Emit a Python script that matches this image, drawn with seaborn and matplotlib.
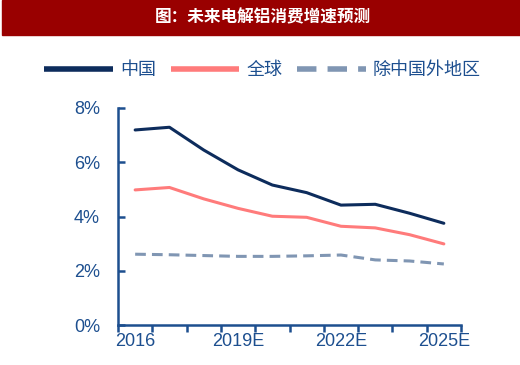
import matplotlib
matplotlib.use("Agg")
import matplotlib.pyplot as plt
import seaborn as sns
import pandas as pd

years = ["2016", "2017", "2018E", "2019E", "2020E", "2021E", "2022E", "2023E", "2024E", "2025E"]
china = [7.19, 7.29, 6.45, 5.72, 5.16, 4.88, 4.42, 4.45, 4.12, 3.75]
world = [4.98, 5.07, 4.65, 4.30, 4.01, 3.97, 3.64, 3.58, 3.33, 2.99]
ex_china = [2.61, 2.59, 2.56, 2.53, 2.53, 2.55, 2.58, 2.40, 2.36, 2.25]
series_names = ["中国", "全球", "除中国外地区"]
tick_labels = ["2016", "2019E", "2022E", "2025E"]
title = "图：未来电解铝消费增速预测"

sns.set_style("white")
plt.rcParams['font.family'] = ['Noto Sans CJK SC', 'DejaVu Sans']

navy = "#0d2c5c"
axis_blue = "#1d4f8f"

df = pd.DataFrame({"year": years, series_names[0]: china,
                   series_names[1]: world, series_names[2]: ex_china})
df["pos"] = range(len(years))

fig = plt.figure(figsize=(5.2, 3.65), dpi=100)
fig.patches.append(plt.Rectangle((0.004, 1 - 35 / 365), 0.996, 35 / 365, transform=fig.transFigure,
                                 color="#990000", zorder=0))
fig.text(0.505, 1 - 17 / 365, title, color="white",
         ha="center", va="center", fontsize=12, fontweight="bold")

ax = fig.add_axes([118 / 520, 40 / 365, 343 / 520, 217 / 365])
sns.lineplot(data=df, x="pos", y=series_names[0], ax=ax, color=navy, lw=2.2, label=series_names[0])
sns.lineplot(data=df, x="pos", y=series_names[1], ax=ax, color="#ff7b7b", lw=2.2, label=series_names[1])
sns.lineplot(data=df, x="pos", y=series_names[2], ax=ax, color="#8096b3", lw=2.2,
             ls=(0, (3.5, 2)), label=series_names[2])

ax.set_xlim(-0.5, len(years) - 0.5)
ax.set_ylim(0, 8)
ax.set_xlabel("")
ax.set_ylabel("")
ax.set_yticks([0, 2, 4, 6, 8])
ax.set_yticklabels([f"{v}%" for v in [0, 2, 4, 6, 8]])
ax.set_xticks([i - 0.5 for i in range(len(years) + 1)])
ax.set_xticklabels([])
ax.set_xticks([0, 3, 6, 9], minor=True)
ax.set_xticklabels(tick_labels, minor=True)

for side in ["top", "right"]:
    ax.spines[side].set_visible(False)
for side in ["left", "bottom"]:
    ax.spines[side].set_color(axis_blue)
    ax.spines[side].set_linewidth(1.8)

ax.tick_params(axis="y", left=True, direction="in", length=5, width=1.8, color=axis_blue,
               labelcolor=axis_blue, labelsize=13, pad=13)
ax.tick_params(axis="x", which="major", bottom=True, direction="out", length=5, width=1.8,
               color=axis_blue)
ax.tick_params(axis="x", which="minor", bottom=True, length=0, labelcolor=axis_blue,
               labelsize=13, pad=6)
for lab in ax.get_yticklabels() + ax.get_xticklabels(minor=True):
    lab.set_family(["Liberation Sans"])

leg = ax.legend(loc="center", bbox_to_anchor=(0.505, 1 - 70 / 365), bbox_transform=fig.transFigure,
                ncol=3, frameon=False, fontsize=13, handlelength=3.8, handletextpad=0.4,
                columnspacing=0.8)
for t in leg.get_texts():
    t.set_color(axis_blue)
for h in leg.get_lines():
    h.set_linewidth(4)
    h.set_solid_capstyle("butt")
    h.set_dash_capstyle("butt")

fig.savefig("out.png", dpi=100)
